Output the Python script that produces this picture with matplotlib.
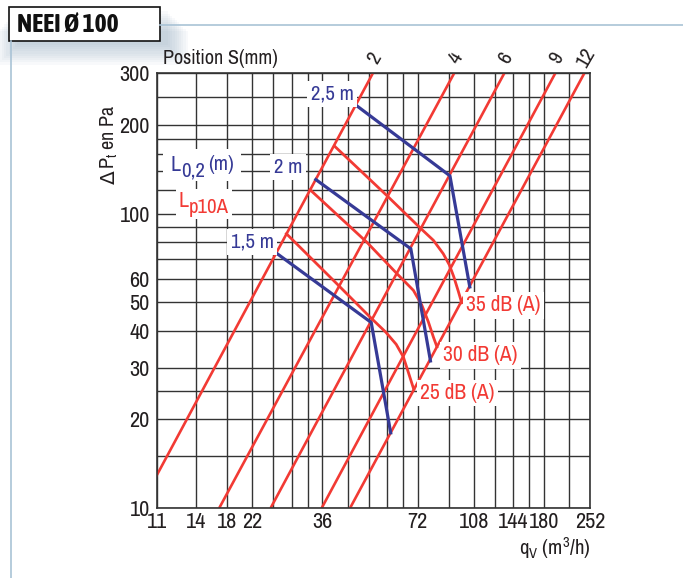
import numpy as np
import matplotlib.pyplot as plt
from matplotlib import font_manager
from matplotlib.patches import Rectangle
from matplotlib.lines import Line2D


def weight_num(w):
    if isinstance(w, (int, float)):
        return int(w)
    return font_manager.weight_dict.get(str(w).lower(), 400)


# fonts: use a narrow face if one is around, otherwise Liberation Sans
narrow = [f for f in font_manager.fontManager.ttflist
          if ('Narrow' in f.name or 'Condensed' in f.name) and f.style == 'normal']
narrow.sort(key=lambda f: (len(f.name.split()), f.name))
reg = [f for f in narrow if weight_num(f.weight) == 400]
bold = [f for f in narrow if weight_num(f.weight) == 700]
base_font = reg[0].name if reg else (narrow[0].name if narrow else 'Liberation Sans')
title_font = bold[0].name if bold else 'Liberation Sans'
plt.rcParams['font.family'] = [base_font, 'DejaVu Sans']
plt.rcParams['mathtext.fontset'] = 'custom'
plt.rcParams['mathtext.rm'] = base_font
plt.rcParams['mathtext.default'] = 'regular'

# ---- data ----
# x axis is flow in m3/h (grid is really in l/s * 3.6)
q_tick_values = [10.8, 14.4, 18, 21.6, 36, 72, 108, 144, 180, 252]
q_tick_labels = ["11", "14", "18", "22", "36", "72", "108", "144", "180", "252"]
q_grid = [25.2, 28.8, 32.4, 43.2, 50.4, 57.6, 64.8, 90, 126, 162, 216]
p_tick_values = [10, 20, 30, 40, 50, 60, 100, 200, 300]
p_grid = [15, 25, 70, 80, 90, 120, 140, 160, 180, 250]

# position lines S (mm): flow at 10 Pa and at 300 Pa
s_labels = ["2", "4", "6", "9", "12"]
s_q_at_10 = [9.5, 17.0, 24.7, 35.8, 44.0]
s_q_at_300 = [51.9, 93.7, 134.9, 195.4, 241.3]

# throw L0,2 (blue)
throw_labels = ["1,5 m", "2 m", "2,5 m"]
throw_q = [[25.6, 51.3, 59.1], [34.3, 68.4, 78.9], [46.1, 90.9, 105.0]]
throw_p = [[73.8, 42.7, 18.0], [130.6, 76.0, 31.6], [233.0, 134.5, 56.4]]

# sound level Lp10A (red)
lp_labels = ["25 dB (A)", "30 dB (A)", "35 dB (A)"]
lp_q = [[27.7, 39.9, 50.8, 57.0, 61.5, 64.8, 67.4, 69.9],
        [32.9, 49.7, 61.8, 69.7, 74.1, 77.7, 80.6, 82.7],
        [39.4, 57.4, 73.2, 80.6, 86.6, 90.5, 93.5, 96.6, 99.0]]
lp_p = [[85.5, 57.9, 44.6, 39.6, 36.0, 32.6, 28.6, 25.3],
        [120.6, 80.0, 62.6, 54.9, 48.9, 42.9, 38.1, 35.3],
        [169.2, 115.4, 89.5, 81.2, 73.1, 67.0, 61.0, 54.5, 49.8]]

RED = "#f23a34"
BLUE = "#363a96"
GRID = "#333333"
TXT = "#231f20"
W, H = 683, 578


def px(x, y):
    """pixel position (from top-left) -> figure fraction"""
    return x / W, 1 - y / H


fig = plt.figure(figsize=(6.83, 5.78), dpi=100)
ax = fig.add_axes([0.2296, 0.1211, 0.6346, 0.7521])
ax.set_xscale('log')
ax.set_yscale('log')
ax.set_xlim(10.8, 252)
ax.set_ylim(10, 300)

# grid
ax.set_xticks(q_tick_values)
ax.set_xticklabels(q_tick_labels)
ax.set_xticks(q_grid, minor=True)
ax.set_xticklabels([], minor=True)
ax.set_yticks(p_tick_values)
ax.set_yticklabels([str(v) for v in p_tick_values])
ax.set_yticks(p_grid, minor=True)
ax.set_yticklabels([], minor=True)
ax.grid(True, which='both', color=GRID, linewidth=1.0, zorder=0)
ax.set_axisbelow(True)
ax.tick_params(which='both', length=0, labelsize=16, colors=TXT)
ax.tick_params(axis='x', pad=3)
ax.tick_params(axis='y', pad=5)
for sp in ax.spines.values():
    sp.set_color(GRID)
    sp.set_linewidth(1.2)

# position lines
for lab, q0, q1 in zip(s_labels, s_q_at_10, s_q_at_300):
    ax.plot([q0, q1], [10, 300], color=RED, lw=1.9, zorder=2, solid_capstyle='butt')
    ax.annotate(lab, xy=(q1, 300), xytext=(2, 15), textcoords='offset pixels',
                rotation=60, ha='center', va='center', fontsize=15, color=TXT,
                annotation_clip=False)

# sound level curves
for lab, qs, ps in zip(lp_labels, lp_q, lp_p):
    ax.plot(qs, ps, color=RED, lw=2.0, zorder=3, solid_joinstyle='round')

# throw lines
for lab, qs, ps in zip(throw_labels, throw_q, throw_p):
    ax.plot(qs, ps, color=BLUE, lw=2.3, zorder=4)

# curve labels with white boxes
wbox = dict(facecolor='white', edgecolor='none', pad=2.5)
ax.text(38.6, 256, "2,5 m", color=BLUE, fontsize=15, ha='center', va='center', bbox=wbox, zorder=5)
ax.text(28.0, 143.6, "2 m", color=BLUE, fontsize=15, ha='center', va='center', bbox=wbox, zorder=5)
ax.text(21.6, 79.9, "1,5 m", color=BLUE, fontsize=15, ha='center', va='center', bbox=wbox, zorder=5)
ax.text(102.2, 48.9, "35 dB (A)", color=RED, fontsize=15.5, ha='left', va='center', bbox=wbox, zorder=5)
ax.text(86.5, 33.0, "30 dB (A)", color=RED, fontsize=15.5, ha='left', va='center', bbox=wbox, zorder=5)
ax.text(73.2, 24.6, "25 dB (A)", color=RED, fontsize=15.5, ha='left', va='center', bbox=wbox, zorder=5)

# legend-like labels L0,2 (m) and Lp10A
fig.add_artist(Rectangle(px(163, 181), 78 / W, 32 / H, transform=fig.transFigure,
                         facecolor='white', edgecolor='none', zorder=2))
fig.add_artist(Rectangle(px(176, 219), 56 / W, 30 / H, transform=fig.transFigure,
                         facecolor='white', edgecolor='none', zorder=2))
fig.text(*px(171, 171), "L", color=BLUE, fontsize=16, ha='left', va='baseline', zorder=3)
fig.text(*px(181, 177), "0,2", color=BLUE, fontsize=15, ha='left', va='baseline', zorder=3)
fig.text(*px(208, 170), "(m)", color=BLUE, fontsize=15, ha='left', va='baseline', zorder=3)
fig.text(*px(178, 207), "L", color=RED, fontsize=16, ha='left', va='baseline', zorder=3)
fig.text(*px(189, 213), "p10A", color=RED, fontsize=15, ha='left', va='baseline', zorder=3)

# axis labels
fig.text(*px(109, 177), "Δ", rotation=90, ha='center', va='center', fontsize=14.5, color=TXT)
fig.text(*px(109, 169), "P$_t$ en Pa", rotation=90, ha='center', va='bottom',
         fontsize=14.5, color=TXT)
fig.text(*px(555, 548), "q$_V$ (m$^3$/h)", ha='center', va='center', fontsize=15, color=TXT)
fig.text(*px(220, 58), "Position S(mm)", ha='center', va='center', fontsize=14.5, color=TXT)

# page frame lines
fig.add_artist(Line2D([160 / W, 1.0], [1 - 25 / H, 1 - 25 / H], color="#a9c3d6", lw=1.2))
fig.add_artist(Line2D([10.7 / W, 10.7 / W], [0, 1 - 41 / H], color="#a9c3d6", lw=1.2))

# title box with soft shadow
bx, by = px(9.3, 40.7)
bw, bh = 150.7 / W, 33.4 / H
for i in range(10):
    g = i * 2.2
    fig.add_artist(Rectangle((bx + (8 - g) / W, by - (4 + g) / H), bw + (2 * g) / W, bh,
                             transform=fig.transFigure, facecolor="#7f9cb6", edgecolor='none',
                             alpha=0.05))
fig.add_artist(Rectangle((bx, by), bw, bh, transform=fig.transFigure, facecolor='white',
                         edgecolor='#111111', lw=1.2))
fig.text(bx + 8 / W, by + bh / 2, "NEEI Ø 100", fontsize=18.5, fontweight='bold',
         family=[title_font, 'DejaVu Sans'], ha='left', va='center', color='#111111')

fig.savefig("out.png", dpi=100)
